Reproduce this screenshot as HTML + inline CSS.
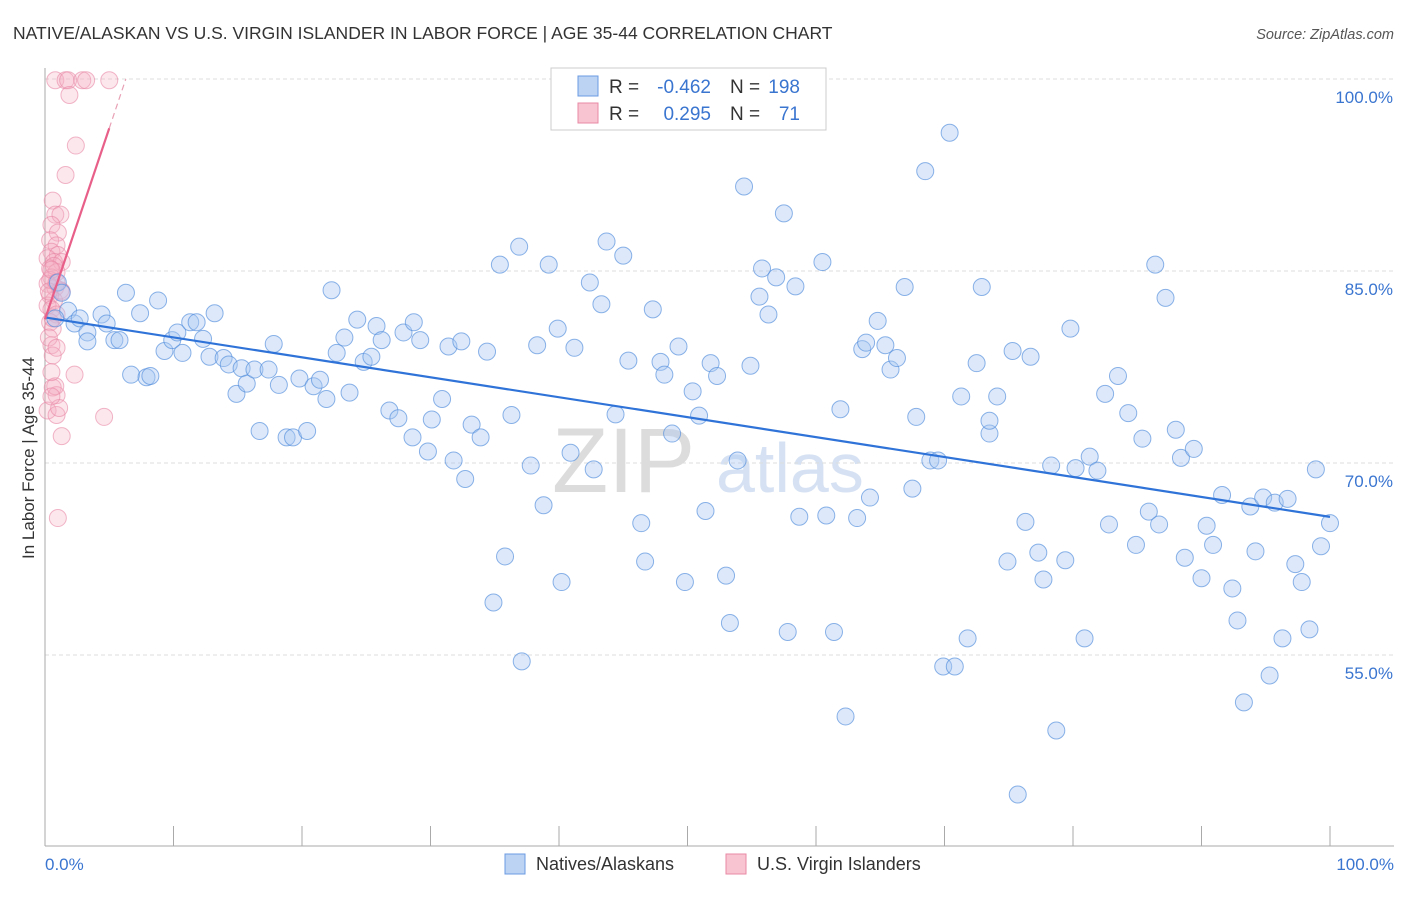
<!DOCTYPE html>
<html><head><meta charset="utf-8">
<style>
body{margin:0;background:#fff;font-family:"Liberation Sans",sans-serif;}
svg text{font-family:"Liberation Sans",sans-serif;}
</style></head>
<body>
<svg id="chart" width="1406" height="892" viewBox="0 0 1406 892" xmlns="http://www.w3.org/2000/svg">
<text x="13" y="39" font-size="17.5" fill="#333">NATIVE/ALASKAN VS U.S. VIRGIN ISLANDER IN LABOR FORCE | AGE 35-44 CORRELATION CHART</text>
<text x="1394" y="39" font-size="14.5" fill="#555" font-style="italic" text-anchor="end">Source: ZipAtlas.com</text>
<g>
<text x="552" y="492" font-size="92" fill="#dcdcdc" font-family="Liberation Serif, serif">ZIP</text>
<text x="716" y="492" font-size="70" fill="#d6e2f3">atlas</text>
</g>
<g id="grid"></g>
<g id="axes"></g>
<g id="pinkpts"></g>
<g id="bluepts"></g>
<g id="trends"></g>
<text transform="translate(34,458) rotate(-90)" font-size="17" fill="#333" text-anchor="middle">In Labor Force | Age 35-44</text>
<text x="45" y="870" font-size="17" fill="#3a75d0">0.0%</text>
<text x="1394" y="870" font-size="17" fill="#3a75d0" text-anchor="end">100.0%</text>
<g>
<rect x="551" y="68" width="275" height="62" fill="#fff" stroke="#ccc"/>
<rect x="578" y="76" width="20" height="20" fill="#bcd3f3" stroke="#6a9be0"/>
<rect x="578" y="103" width="20" height="20" fill="#f8c4d2" stroke="#e98aa6"/>
<text x="609" y="93" font-size="19" fill="#333">R =</text>
<text x="711" y="93" font-size="19" fill="#3a75d0" text-anchor="end">-0.462</text>
<text x="730" y="93" font-size="19" fill="#333">N =</text>
<text x="800" y="93" font-size="19" fill="#3a75d0" text-anchor="end">198</text>
<text x="609" y="120" font-size="19" fill="#333">R =</text>
<text x="711" y="120" font-size="19" fill="#3a75d0" text-anchor="end">0.295</text>
<text x="730" y="120" font-size="19" fill="#333">N =</text>
<text x="800" y="120" font-size="19" fill="#3a75d0" text-anchor="end">71</text>
</g>
<g>
<rect x="505" y="854" width="20" height="20" fill="#bcd3f3" stroke="#6a9be0"/>
<text x="536" y="870" font-size="18" fill="#333">Natives/Alaskans</text>
<rect x="726" y="854" width="20" height="20" fill="#f8c4d2" stroke="#e98aa6"/>
<text x="757" y="870" font-size="18" fill="#333">U.S. Virgin Islanders</text>
</g>
</svg>
<script>
const yTicks=[55,70,85,100];
const xTicks=[0,10,20,30,40,50,60,70,80,90,100];
const blueX=[1.0,1.3,1.8,0.8,2.3,2.7,3.3,4.4,4.8,3.3,5.4,5.8,6.3,7.4,6.7,7.9,8.2,8.8,9.3,9.9,10.3,10.7,11.3,11.8,12.3,12.8,13.2,13.9,14.3,14.9,15.3,15.7,16.7,16.3,17.4,17.8,18.2,18.8,19.3,19.8,20.4,20.9,21.4,21.9,22.3,22.7,23.3,23.7,24.3,24.8,25.4,25.8,26.2,26.8,27.5,27.9,28.6,28.7,29.2,29.8,30.1,30.9,31.4,31.8,32.4,32.7,33.2,33.9,34.4,34.9,35.4,35.8,36.3,36.9,37.1,37.8,38.3,38.8,39.2,39.9,40.2,40.9,41.2,42.4,42.7,43.3,43.7,44.4,45.0,45.4,46.4,46.7,47.3,47.9,48.2,48.8,49.3,49.8,50.4,50.9,51.4,51.8,52.3,53.0,53.3,53.9,54.4,54.9,55.6,55.8,56.3,56.9,57.5,57.8,58.4,58.7,59.9,60.5,60.8,61.4,61.9,62.3,63.2,63.6,64.2,63.9,64.8,65.4,65.8,66.3,66.9,67.5,67.8,68.5,68.9,69.5,69.9,70.4,70.8,71.3,71.8,72.5,72.9,73.5,74.1,73.5,74.9,75.3,75.7,76.3,76.7,77.3,77.7,78.3,78.7,79.4,79.8,80.2,80.9,81.3,81.9,82.5,82.8,83.5,84.3,84.9,85.4,85.9,86.4,86.7,87.2,88.0,88.4,88.7,89.4,90.0,90.4,90.9,91.6,92.4,92.8,93.3,93.8,94.2,94.8,95.3,95.7,96.3,96.7,97.3,97.8,98.4,98.9,99.3,100.0,45.8];
const blueY=[84.1,83.3,81.9,81.3,80.9,81.3,80.2,81.6,80.9,79.5,79.6,79.6,83.3,81.7,76.9,76.7,76.8,82.7,78.75,79.6,80.2,78.6,81.0,81.0,79.7,78.3,81.7,78.2,77.7,75.4,77.4,76.2,72.5,77.3,77.3,79.3,76.1,72.0,72.0,76.6,72.5,76.0,76.5,75.0,83.5,78.6,79.8,75.5,81.2,77.9,78.3,80.7,79.6,74.1,73.5,80.2,72.0,81.0,79.6,70.9,73.4,75.0,79.1,70.2,79.5,68.75,73.0,72.0,78.7,59.1,85.5,62.7,73.75,86.9,54.5,69.8,79.2,66.7,85.5,80.5,60.7,70.8,79.0,84.1,69.5,82.4,87.3,73.8,86.2,78.0,65.3,62.3,82.0,77.9,76.9,72.3,79.1,60.7,75.6,73.7,66.25,77.8,76.8,61.2,57.5,70.2,91.6,77.6,83.0,85.2,81.6,84.5,89.5,56.8,83.8,65.8,99.9,85.7,65.9,56.8,74.2,50.2,65.7,78.9,67.3,79.4,81.1,79.2,77.3,78.2,83.75,68.0,73.6,92.8,70.2,70.2,54.1,95.8,54.1,75.2,56.3,77.8,83.75,72.3,75.2,73.3,62.3,78.75,44.1,65.4,78.3,63.0,60.9,69.8,49.1,62.4,80.5,69.6,56.3,70.5,69.4,75.4,65.2,76.8,73.9,63.6,71.9,66.2,85.5,65.2,82.9,72.6,70.4,62.6,71.1,61.0,65.1,63.6,67.5,60.2,57.7,51.3,66.6,63.1,67.3,53.4,66.9,56.3,67.2,62.1,60.7,57.0,69.5,63.5,65.3,99.9];
const pinkX=[0.8,1.6,1.8,2.9,3.2,5.0,1.9,2.4,1.6,0.6,0.8,1.2,0.5,1.0,0.4,0.9,0.5,1.0,0.2,0.7,1.3,0.4,0.9,0.5,0.2,0.8,1.2,0.4,0.7,0.2,0.5,0.9,0.4,0.6,0.5,0.6,2.3,0.6,0.9,0.8,0.2,0.9,1.3,4.6,1.0,0.4,0.7,0.3,0.5,0.9,1.3,0.6,0.3,0.9,0.5,1.1,0.5];
const pinkY=[99.9,99.9,99.9,99.9,99.9,99.9,98.75,94.8,92.5,90.5,89.4,89.4,88.6,88.0,87.4,87.0,86.5,86.25,86.0,85.7,85.7,85.2,84.9,84.5,84.0,83.7,83.5,83.1,82.7,82.3,82.0,81.6,81.0,80.5,79.2,78.4,76.9,75.9,75.3,76.0,74.1,73.75,72.1,73.6,65.7,84.3,85.4,83.4,85.1,84.1,83.4,81.3,79.8,79.0,77.1,74.3,75.2];

const NS='http://www.w3.org/2000/svg';
const X0=45,X1=1330,YTOP=79,PER=12.8;
const sx=v=>X0+(X1-X0)*v/100;
const sy=v=>YTOP+(100-v)*PER;
function mk(tag,attrs,parent){const e=document.createElementNS(NS,tag);for(const k in attrs)e.setAttribute(k,attrs[k]);parent.appendChild(e);return e;}
const grid=document.getElementById('grid'),axes=document.getElementById('axes');
yTicks.forEach(t=>{
  const l=mk('line',{x1:X0,x2:1394,y1:sy(t),y2:sy(t),stroke:'#ddd','stroke-dasharray':'4,3'},grid);
  
  
  const tx=mk('text',{x:1393,y:sy(t)+24,'font-size':17,fill:'#3a75d0','text-anchor':'end'},grid);
  tx.textContent=t.toFixed(1)+'%';
  
  
});
mk('line',{x1:X0,x2:X0,y1:68,y2:846,stroke:'#aaa'},axes);
mk('line',{x1:X0,x2:1394,y1:846,y2:846,stroke:'#aaa'},axes);
xTicks.forEach(t=>{
  const l=mk('line',{x1:sx(t),x2:sx(t),y1:826,y2:846,stroke:'#aaa'},axes);
  
  
});
const pg=document.getElementById('pinkpts');
pinkX.forEach((v,i)=>{
  const c=mk('circle',{cx:sx(v),cy:sy(pinkY[i]),r:8.5,fill:'rgba(246,175,196,0.3)',stroke:'rgba(232,135,165,0.6)','stroke-width':1},pg);
  
  
});
const bg=document.getElementById('bluepts');
blueX.forEach((v,i)=>{
  const c=mk('circle',{cx:sx(v),cy:sy(blueY[i]),r:8.5,fill:'rgba(170,200,242,0.4)',stroke:'rgba(80,140,220,0.65)','stroke-width':1},bg);
  
  
});
function reg(xs,ys){const n=xs.length;let mx=0,my=0;for(let i=0;i<n;i++){mx+=xs[i];my+=ys[i];}mx/=n;my/=n;let sxy=0,sxx=0;for(let i=0;i<n;i++){sxy+=(xs[i]-mx)*(ys[i]-my);sxx+=(xs[i]-mx)**2;}const b=sxy/sxx;return [my-b*mx,b];}
const tr=document.getElementById('trends');
const [ba,bb]=reg(blueX,blueY);
const bl=mk('line',{x1:sx(0),y1:sy(ba),x2:sx(100),y2:sy(ba+bb*100),stroke:'#2f73d8','stroke-width':2.2},tr);


const [pa,pb]=reg(pinkX,pinkY);
const pmax=Math.max(...pinkX);
const pl=mk('line',{x1:sx(0),y1:sy(pa),x2:sx(pmax),y2:sy(pa+pb*pmax),stroke:'#e8608a','stroke-width':2.2},tr);


const xEnd=Math.min(100,(100-pa)/pb);
const pd=mk('line',{x1:sx(pmax),y1:sy(pa+pb*pmax),x2:sx(xEnd),y2:sy(pa+pb*xEnd),stroke:'#e8a0b5','stroke-width':1.2,'stroke-dasharray':'6,4'},tr);


</script>
</body></html>
